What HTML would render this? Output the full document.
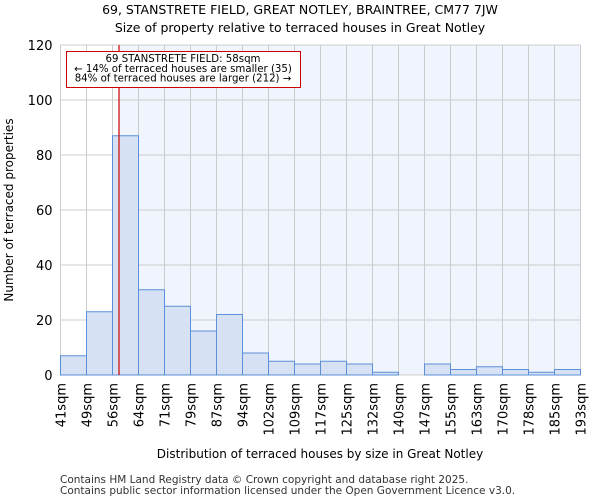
<!DOCTYPE html>
<html><head><meta charset="utf-8"><style>
body{margin:0;background:#fff;font-family:"DejaVu Sans","Liberation Sans",sans-serif}
</style></head><body>
<svg width="600" height="500" xmlns="http://www.w3.org/2000/svg" font-family="DejaVu Sans, Liberation Sans, sans-serif">
<text x="300" y="14" text-anchor="middle" font-size="12.5">69, STANSTRETE FIELD, GREAT NOTLEY, BRAINTREE, CM77 7JW</text>
<text x="300" y="32" text-anchor="middle" font-size="12.5">Size of property relative to terraced houses in Great Notley</text>
<g id="plot"></g>
<text x="320" y="458" text-anchor="middle" font-size="12">Distribution of terraced houses by size in Great Notley</text>
<text transform="translate(13,210) rotate(-90)" text-anchor="middle" font-size="12">Number of terraced properties</text>
<text x="60" y="483" font-size="10.5" fill="#333">Contains HM Land Registry data © Crown copyright and database right 2025.</text>
<text x="60" y="494" font-size="10.5" fill="#333">Contains public sector information licensed under the Open Government Licence v3.0.</text>
</svg>
<script>
const labels=["41sqm","49sqm","56sqm","64sqm","71sqm","79sqm","87sqm","94sqm","102sqm","109sqm","117sqm","125sqm","132sqm","140sqm","147sqm","155sqm","163sqm","170sqm","178sqm","185sqm","193sqm"];
const counts=[7,23,87,31,25,16,22,8,5,4,5,4,1,0,4,2,3,2,1,2];
const yTicks=[0,20,40,60,80,100,120];
const propertyBin=2.25;
const NS="http://www.w3.org/2000/svg";
const g=document.getElementById('plot');
const L=60.5,R=580.5,T=45,B=375,yMax=120;
const bw=(R-L)/counts.length;
const xs=i=>L+i*bw, ys=v=>B-(v/yMax)*(B-T);
function mk(t,a,p){const e=document.createElementNS(NS,t);for(const k in a)e.setAttribute(k,a[k]);(p||g).appendChild(e);return e;}
const lineX=xs(propertyBin);
let e=mk('rect',{x:L,y:T,width:R-L,height:B-T,fill:'#ffffff'});


e=mk('rect',{x:lineX,y:T,width:R-lineX,height:B-T,fill:'#f0f4fd'});


for(let i=0;i<=counts.length;i++){e=mk('line',{x1:xs(i),x2:xs(i),y1:T,y2:B,stroke:'#cccccc','stroke-width':1});

}
yTicks.forEach(v=>{e=mk('line',{x1:L,x2:R,y1:ys(v),y2:ys(v),stroke:'#cccccc','stroke-width':1});


e=mk('text',{x:L-8,y:ys(v)+5,'text-anchor':'end','font-size':13});e.textContent=v;

});
counts.forEach((c,i)=>{e=mk('rect',{x:xs(i),y:ys(c),width:bw,height:B-ys(c),fill:'#d6e1f3',stroke:'#5b8fd9','stroke-width':1});

});
labels.forEach((l,i)=>{e=mk('text',{transform:`translate(${xs(i)+5},383) rotate(-90)`,'text-anchor':'end','font-size':13});e.textContent=l;

});
e=mk('line',{x1:lineX,x2:lineX,y1:T,y2:B,stroke:'#cc0000','stroke-width':1.2});


const ag=mk('g',{});


mk('rect',{x:66.5,y:51.5,width:234,height:36,fill:'#fff',stroke:'#cc0000','stroke-width':1},ag);
["69 STANSTRETE FIELD: 58sqm","← 14% of terraced houses are smaller (35)","84% of terraced houses are larger (212) →"].forEach((t,i)=>{
const tx=mk('text',{x:183,y:62+i*9.8,'text-anchor':'middle','font-size':10.2},ag);tx.textContent=t;});
</script>
</body></html>
